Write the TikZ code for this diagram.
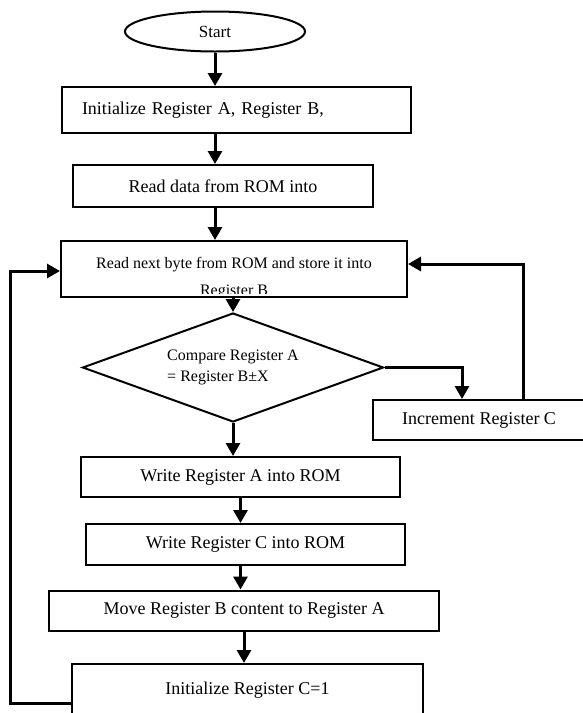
\documentclass[tikz,border=0pt]{standalone}
\usepackage{fontspec}
\setmainfont{Liberation Serif}
\usetikzlibrary{arrows.meta, calc, shapes.geometric}

\begin{document}
\begin{tikzpicture}[x=1pt, y=-1pt,
    every node/.style={font=\fontsize{18}{21}\selectfont},
    procbox/.style={draw, line width=2pt, rectangle, inner sep=0pt},
    terminal/.style={draw, line width=2pt, ellipse, inner sep=0pt, font=\fontsize{17}{20}\selectfont},
    decision/.style={draw, line width=2pt, diamond, aspect=2.76, inner sep=0pt, align=left, font=\fontsize{16}{21}\selectfont},
    flow/.style={line width=3pt, -{Triangle[length=13pt, width=14pt]}}]
        \useasboundingbox (0,0) rectangle (582,713);

        \node[terminal, minimum width=180, minimum height=40] (start) at (215,31.5) {Start};
        \node[procbox, minimum width=349, minimum height=46, text width=309, align=left] (init) at (236.5,110) {Initialize Register A, Register B,};
        \node[procbox, minimum width=300, minimum height=42] (readrom) at (223,186) {Read data from ROM into};
        \node[procbox, minimum width=346, minimum height=56] (nextbyte) at (234,269) {};
        \begin{scope}
            \clip (nextbyte.north west) rectangle ($(nextbyte.south east)+(0,-5)$);
            \node[align=center, font=\fontsize{16}{27}\selectfont, anchor=north] (nbtext) at (234,254) {Read next byte from ROM and store it into\\ Register B};
        \end{scope}
        \node[decision, minimum width=301, minimum height=109] (dec) at (233,367.5) {Compare Register A\\ = Register B±X};
        \node[procbox, minimum width=212, minimum height=40] (incr) at (479,420) {Increment Register C};
        \node[procbox, minimum width=319, minimum height=40] (writeA) at (240.5,477) {Write Register A into ROM};
        \node[procbox, minimum width=319, minimum height=41] (writeC) at (245.5,544.5) {Write Register C into ROM};
        \node[procbox, minimum width=390, minimum height=40] (move) at (244,610.5) {Move Register B content to Register A};
        \node[procbox, minimum width=351, minimum height=52] (initC) at (247.5,690) {Initialize Register C=1};

        \coordinate (rloop) at (523,264);
        \coordinate (lloop) at (10,271);
        \coordinate (lbot) at (10,703);

        \draw[flow] (start.south) -- (start.south |- init.north);
        \draw[flow] (start.south |- init.south) -- (start.south |- readrom.north);
        \draw[flow] (start.south |- readrom.south) -- (start.south |- nextbyte.north);
        \draw[flow] (dec.north |- nextbyte.south) -- (dec.north);
        \draw[flow] (dec.south) -- (dec.south |- writeA.north);
        \draw[flow] (dec.east) -| ($(incr.north)+(-17,0)$);
        \draw[flow] (rloop |- incr.north) -- (rloop) -- (rloop -| nextbyte.east);
        \draw[flow] (writeA.south) -- (writeA.south |- writeC.north);
        \draw[flow] (writeA.south |- writeC.south) -- (writeA.south |- move.north);
        \draw[flow] (move.south) -- (move.south |- initC.north);
        \draw[flow] (lbot -| initC.west) -- (lbot) -- (lloop) -- (lloop -| nextbyte.west);
    \end{tikzpicture}
\end{document}
